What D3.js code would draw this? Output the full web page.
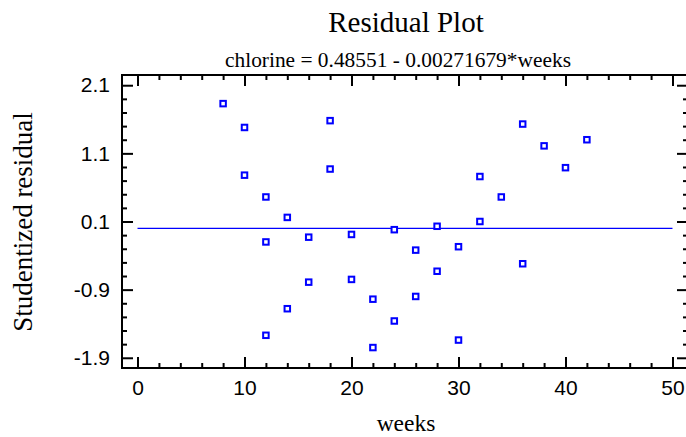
<!DOCTYPE html>
<html>
<head>
<meta charset="utf-8">
<script src="https://cdn.jsdelivr.net/npm/d3@7"></script>
<style>
  html, body { margin: 0; padding: 0; background: #fff; }
  svg { display: block; }
</style>
</head>
<body>
<div id="chart"></div>
<script>
// --- Residual plot :: chlorine vs weeks -------------------------------------

const TITLE = 'Residual Plot';
const SUBTITLE = 'chlorine = 0.48551 - 0.00271679*weeks';
const X_LABEL = 'weeks';
const Y_LABEL = 'Studentized residual';

const weeks = [
  8, 10, 10, 12, 12, 12, 14, 14, 16, 16, 18, 18, 20, 20, 22, 22,
  24, 24, 26, 26, 28, 28, 30, 30, 32, 32, 34, 36, 36, 38, 40, 42
];
const residuals = [
  1.83, 1.48, 0.78, 0.46, -0.20, -1.57, 0.16, -1.18, -0.13, -0.79, 1.58, 0.87, -0.09, -0.75, -1.04, -1.75,
  -0.02, -1.36, -0.32, -1.00, 0.03, -0.63, -0.27, -1.64, 0.10, 0.76, 0.46, 1.53, -0.52, 1.21, 0.89, 1.30
];

const xMajor = [0, 10, 20, 30, 40, 50];
const xMinor = [2, 4, 6, 8, 12, 14, 16, 18, 22, 24, 26, 28, 32, 34, 36, 38, 42, 44, 46, 48];
const yMajor = [2.1, 1.1, 0.1, -0.9, -1.9];
const yMinor = [1.9, 1.7, 1.5, 1.3, 0.9, 0.7, 0.5, 0.3, -0.1, -0.3, -0.5, -0.7, -1.1, -1.3, -1.5, -1.7];
const yTickText = ['2.1', '1.1', '0.1', '-0.9', '-1.9'];

const W = 686, H = 437;
const M = { left: 122, right: 688, top: 75, bottom: 368 };
const SANS = '"Liberation Sans", Arial, sans-serif';
const SERIF = '"Liberation Serif", "Times New Roman", serif';

const svg = d3.select('#chart').append('svg')
  .attr('width', W).attr('height', H);

const x = d3.scaleLinear().domain([-1.45, 51.45]).range([M.left, M.right]);
const y = d3.scaleLinear().domain([-2.05, 2.25]).range([M.bottom, M.top]);

function styleAxis(g) {
  g.attr('font-size', null).attr('font-family', null);
  g.select('.domain').remove();
  g.selectAll('.tick line').attr('stroke', '#000').attr('stroke-width', 2);
  g.selectAll('.tick text')
    .attr('font-family', SANS).attr('font-size', 21).attr('fill', '#000');
}

// axis + minor ticks on one side
function side(axisFn, scale, pos, major, minor, labels) {
  const a = axisFn(scale).tickValues(major).tickSize(-11).tickPadding(12);
  if (labels) a.tickFormat(labels); else a.tickFormat('');
  svg.append('g').attr('transform', pos).call(a).call(styleAxis);
  svg.append('g').attr('transform', pos)
    .call(axisFn(scale).tickValues(minor).tickSize(-5).tickFormat(''))
    .call(styleAxis);
}

side(d3.axisBottom, x, `translate(0,${M.bottom})`, xMajor, xMinor, d3.format('d'));
side(d3.axisTop, x, `translate(0,${M.top})`, xMajor, xMinor, null);
side(d3.axisLeft, y, `translate(${M.left},0)`, yMajor, yMinor, (d, i) => yTickText[i]);
side(d3.axisRight, y, `translate(${M.right},0)`, yMajor, yMinor, null);

// frame
svg.append('rect')
  .attr('x', M.left).attr('y', M.top)
  .attr('width', M.right - M.left).attr('height', M.bottom - M.top)
  .attr('fill', 'none').attr('stroke', '#000').attr('stroke-width', 2);

// zero line
svg.append('line')
  .attr('x1', x(0)).attr('x2', x(50))
  .attr('y1', y(0)).attr('y2', y(0))
  .attr('stroke', '#0000ff').attr('stroke-width', 1.2);

// points
const S = 5.5;
svg.append('g').selectAll('rect.pt')
  .data(weeks.map((w, i) => ({ w, r: residuals[i] })))
  .join('rect')
    .attr('class', 'pt')
    .attr('x', d => x(d.w) - S / 2)
    .attr('y', d => y(d.r) - S / 2)
    .attr('width', S).attr('height', S)
    .attr('fill', '#fff')
    .attr('stroke', '#0000ff')
    .attr('stroke-width', 2);

// titles
const txt = (tx, ty, size, s) => svg.append('text')
  .attr('x', tx).attr('y', ty).attr('text-anchor', 'middle')
  .attr('font-family', SERIF).attr('font-size', size).attr('fill', '#000').text(s);

txt(406, 32, 29, TITLE);
txt(398, 67, 21.4, SUBTITLE);
txt(406, 431, 23.5, X_LABEL);
txt(0, 0, 27, Y_LABEL).attr('transform', 'translate(32,222) rotate(-90)');
</script>
</body>
</html>
